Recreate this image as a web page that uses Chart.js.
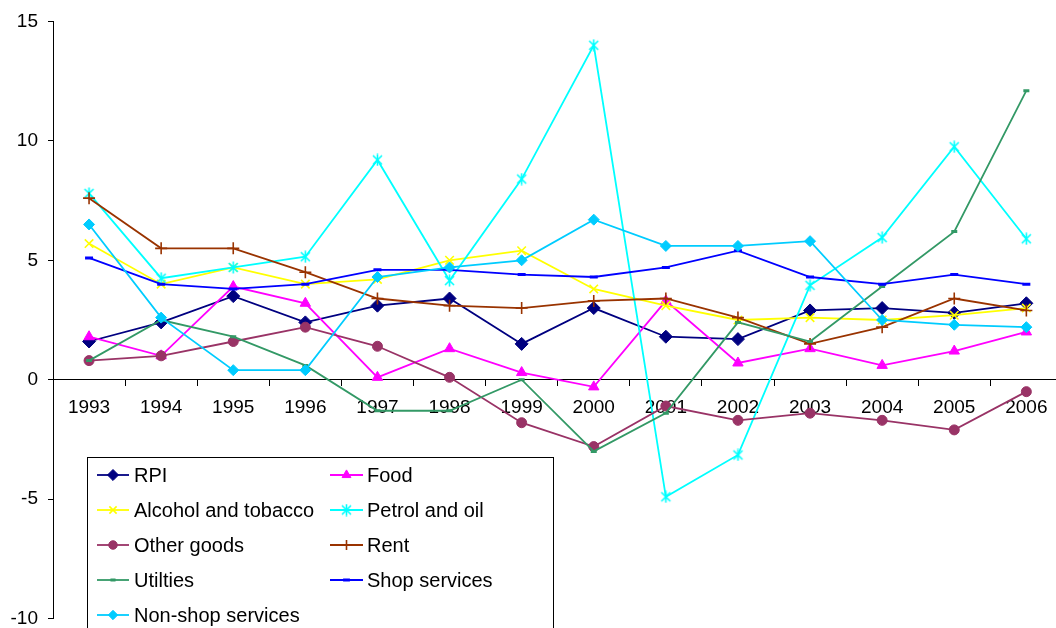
<!DOCTYPE html>
<html>
<head>
<meta charset="utf-8">
<script src="https://cdn.jsdelivr.net/npm/chart.js@4/dist/chart.umd.min.js"></script>
<style>
  html, body { margin: 0; padding: 0; background: #fff; }
  #wrap { width: 1056px; height: 628px; overflow: hidden; position: relative; }
  canvas { display: block; }
</style>
</head>
<body>
<div id="wrap"><canvas id="c" width="1070" height="640"></canvas></div>
<script>
const years = ['1993','1994','1995','1996','1997','1998','1999','2000','2001','2002','2003','2004','2005','2006'];
const yTicks = [-10, -5, 0, 5, 10, 15];

const rpi       = [1.6, 2.4, 3.5, 2.4, 3.1, 3.4, 1.5, 3.0, 1.8, 1.7, 2.9, 3.0, 2.8, 3.2];
const food      = [1.8, 1.0, 3.9, 3.2, 0.1, 1.3, 0.3, -0.3, 3.3, 0.7, 1.3, 0.6, 1.2, 2.0];
const alcohol   = [5.7, 4.0, 4.7, 4.0, 4.2, 5.0, 5.4, 3.8, 3.1, 2.5, 2.6, 2.5, 2.7, 3.0];
const petrol    = [7.8, 4.25, 4.7, 5.15, 9.2, 4.15, 8.4, 14.0, -4.9, -3.15, 3.95, 5.95, 9.75, 5.9];
const otherGoods= [0.8, 1.0, 1.6, 2.2, 1.4, 0.1, -1.8, -2.8, -1.1, -1.7, -1.4, -1.7, -2.1, -0.5];
const rent      = [7.6, 5.5, 5.5, 4.5, 3.4, 3.1, 3.0, 3.3, 3.4, 2.6, 1.5, 2.2, 3.4, 2.9];
const utilities = [0.8, 2.5, 1.8, 0.6, -1.3, -1.3, 0.0, -3.0, -1.4, 2.4, 1.6, 3.9, 6.2, 12.1];
const shopSvc   = [5.1, 4.0, 3.8, 4.0, 4.6, 4.6, 4.4, 4.3, 4.7, 5.4, 4.3, 4.0, 4.4, 4.0];
const nonShop   = [6.5, 2.6, 0.4, 0.4, 4.3, 4.7, 5.0, 6.7, 5.6, 5.6, 5.8, 2.5, 2.3, 2.2];

function makeAsterisk(color) {
  const c = document.createElement('canvas');
  c.width = 13; c.height = 13;
  const g = c.getContext('2d');
  g.strokeStyle = color; g.lineWidth = 1.6;
  g.beginPath();
  g.moveTo(2, 2); g.lineTo(11, 11);
  g.moveTo(11, 2); g.lineTo(2, 11);
  g.moveTo(6.5, 0.5); g.lineTo(6.5, 12.5);
  g.stroke();
  return c;
}
const asterisk = makeAsterisk('#00FFFF');

function ds(label, data, color, style, radius, bw) {
  return {
    label, data,
    borderColor: color, backgroundColor: color,
    pointBackgroundColor: color, pointBorderColor: color,
    pointStyle: style, pointRadius: radius, pointHoverRadius: radius,
    pointBorderWidth: bw, borderWidth: 1.8, tension: 0, fill: false
  };
}

const datasets = [
  ds('RPI', rpi, '#000080', 'rectRot', 6.5, 1),
  ds('Food', food, '#FF00FF', 'triangle', 6, 1),
  ds('Alcohol and tobacco', alcohol, '#FFFF00', 'crossRot', 6, 1.6),
  ds('Petrol and oil', petrol, '#00FFFF', asterisk, 6, 1.6),
  ds('Other goods', otherGoods, '#993366', 'circle', 5, 1),
  ds('Rent', rent, '#993300', 'cross', 6, 1.6),
  ds('Utilties', utilities, '#339966', 'line', 3, 3),
  ds('Shop services', shopSvc, '#0000FF', 'line', 4, 3),
  ds('Non-shop services', nonShop, '#00CCFF', 'rectRot', 5.5, 1)
];
datasets.forEach((d, i) => { d.order = datasets.length - i; });

const FONT = "'Liberation Sans', Arial, sans-serif";

const boxLegend = {
  id: 'boxLegend',
  afterDraw(chart) {
    const ctx = chart.ctx;
    const left = 87.5, top = 457.5, right = 553.5, bottom = 700;
    ctx.save();
    ctx.fillStyle = '#fff';
    ctx.fillRect(left, top, right - left, bottom - top);
    ctx.strokeStyle = '#000';
    ctx.lineWidth = 1;
    ctx.strokeRect(left, top, right - left, bottom - top);
    const cols = [{x0: 97, x1: 129, tx: 134}, {x0: 330, x1: 363, tx: 367}];
    const rowY0 = 475, rowDy = 35;
    ctx.font = '20px ' + FONT;
    ctx.textBaseline = 'middle';
    ctx.textAlign = 'left';
    chart.data.datasets.forEach((d, i) => {
      const col = cols[i % 2];
      const y = rowY0 + Math.floor(i / 2) * rowDy;
      ctx.strokeStyle = d.borderColor;
      ctx.lineWidth = d.borderWidth;
      ctx.beginPath();
      ctx.moveTo(col.x0, y); ctx.lineTo(col.x1, y);
      ctx.stroke();
      const cx = (col.x0 + col.x1) / 2;
      ctx.fillStyle = d.pointBackgroundColor;
      ctx.strokeStyle = d.pointBorderColor;
      ctx.lineWidth = d.pointBorderWidth;
      if (Chart.helpers && Chart.helpers.drawPoint) {
        Chart.helpers.drawPoint(ctx, {
          pointStyle: d.pointStyle, radius: d.pointRadius * 0.85,
          rotation: 0, borderWidth: d.pointBorderWidth
        }, cx, y);
      }
      ctx.fillStyle = '#000';
      ctx.fillText(d.label, col.tx, y + 1);
    });
    ctx.restore();
  }
};

new Chart(document.getElementById('c'), {
  type: 'line',
  data: { labels: years, datasets },
  options: {
    responsive: false,
    animation: false,
    layout: { padding: { top: 15.5, right: 4, bottom: 18.5, left: 0 } },
    plugins: { legend: { display: false }, tooltip: { enabled: false } },
    scales: {
      x: {
        type: 'category',
        offset: true,
        position: { y: 0 },
        grid: { offset: true, drawOnChartArea: false, drawTicks: true, tickLength: 6, color: '#000', lineWidth: 1 },
        border: { display: true, color: '#000', width: 1 },
        ticks: { color: '#000', font: { family: FONT, size: 19 }, padding: 11, maxRotation: 0, autoSkip: false }
      },
      y: {
        min: -10, max: 15,
        afterBuildTicks: (s) => { s.ticks = yTicks.map(v => ({ value: v })); },
        afterFit: (s) => { s.width = 53; },
        grid: { drawOnChartArea: false, drawTicks: true, tickLength: 5, color: '#000', lineWidth: 1 },
        border: { display: true, color: '#000', width: 1 },
        ticks: { color: '#000', font: { family: FONT, size: 19 }, padding: 10 }
      }
    }
  },
  plugins: [boxLegend]
});
</script>
</body>
</html>
